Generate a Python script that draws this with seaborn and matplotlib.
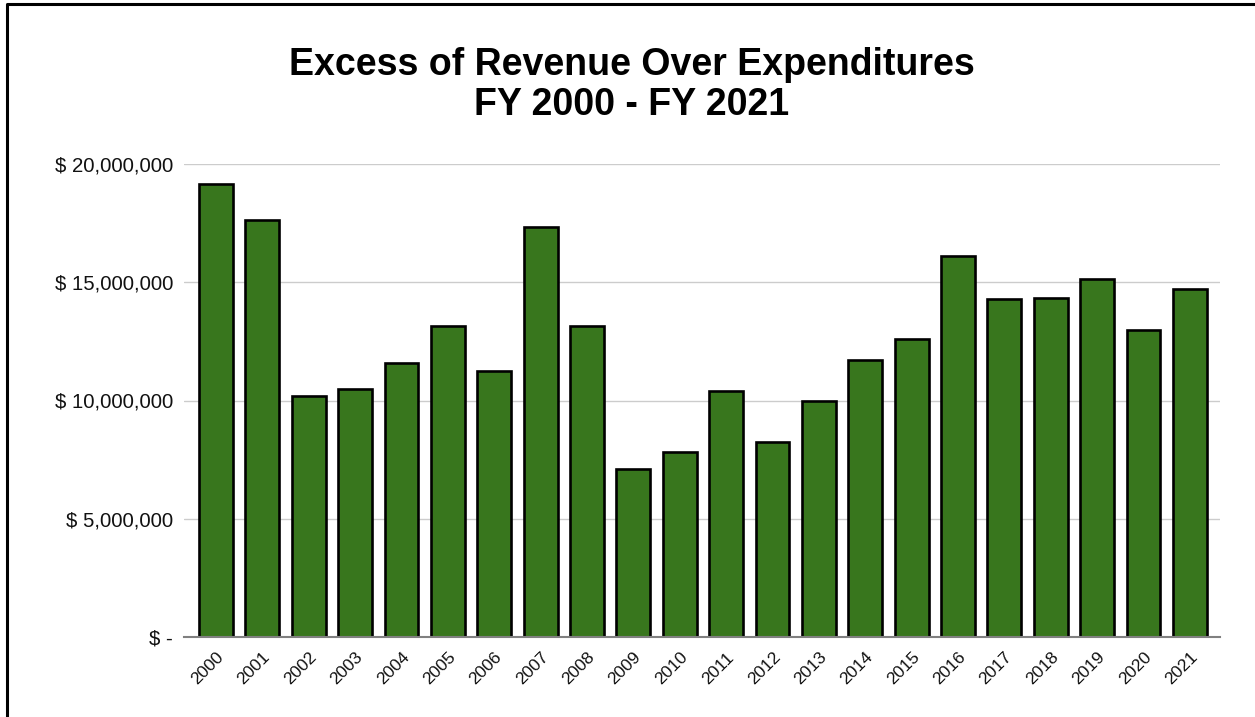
import matplotlib
matplotlib.use('Agg')
import matplotlib.pyplot as plt
import matplotlib.ticker as mticker
from matplotlib.lines import Line2D
import seaborn as sns
import pandas as pd

# values
years = [str(y) for y in range(2000, 2022)]
excess = [19150000, 17630000, 10190000, 10490000, 11590000, 13150000,
          11250000, 17340000, 13150000, 7100000, 7820000, 10400000,
          8250000, 9980000, 11710000, 12600000, 16110000, 14290000,
          14330000, 15140000, 12980000, 14710000]
title = 'Excess of Revenue Over Expenditures\nFY 2000 - FY 2021'

df = pd.DataFrame({'year': years, 'excess': excess})

sns.set_style('white')
plt.rcParams['font.family'] = ['Liberation Sans', 'DejaVu Sans']
plt.rcParams['text.color'] = 'black'

fig = plt.figure(figsize=(12.55, 7.17), dpi=100)
ax = fig.add_axes([184 / 1255, 1 - 637 / 717, (1220 - 184) / 1255, (637 - 164) / 717])

sns.barplot(data=df, x='year', y='excess', color='#38761d', saturation=1,
            edgecolor='black', linewidth=1.9, width=0.73, ax=ax, zorder=3)

ax.set_ylim(0, 20000000)
ax.set_xlim(-0.69, 21.65)
ax.yaxis.set_major_locator(mticker.MultipleLocator(5000000))
ax.yaxis.set_major_formatter(mticker.FuncFormatter(
    lambda v, p: '$ -' if v == 0 else '$ {:,.0f}'.format(v)))
ax.yaxis.grid(True, color='#cccccc', lw=1, zorder=0)
ax.set_axisbelow(True)
ax.set_xlabel('')
ax.set_ylabel('')

for s in ['top', 'left', 'right']:
    ax.spines[s].set_visible(False)
ax.spines['bottom'].set_color('#808080')
ax.spines['bottom'].set_linewidth(1.5)
ax.spines['bottom'].set_zorder(4)

ax.tick_params(axis='y', length=0, pad=8, labelsize=14.7, labelcolor='#111111')
ax.tick_params(axis='x', length=0, pad=9, labelsize=12.5, labelcolor='#111111')
plt.setp(ax.get_xticklabels(), rotation=45, ha='right', va='top',
         rotation_mode='anchor')

fig.text(632 / 1255, 1 - 85 / 717, title, ha='center', va='center',
         fontsize=27, fontweight='bold', linespacing=1.14, color='black')

# outer frame (left and top edges)
fig.add_artist(Line2D([7 / 1255, 7 / 1255, 1], [0, 1 - 4 / 717, 1 - 4 / 717],
                      transform=fig.transFigure, color='black', lw=2.2))

plt.savefig('out.png', dpi=100)
